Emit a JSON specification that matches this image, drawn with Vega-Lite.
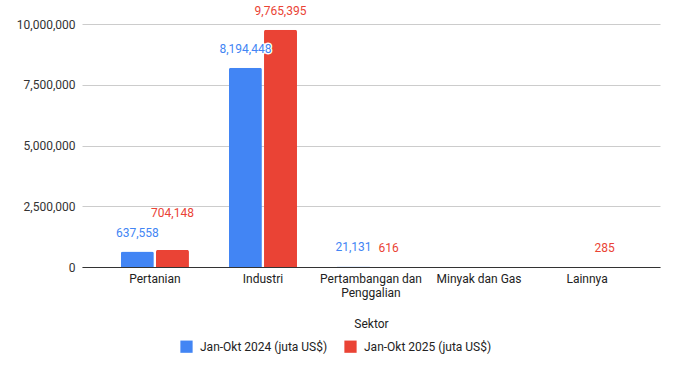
{
  "$schema": "https://vega.github.io/schema/vega-lite/v6.json",
  "width": 578,
  "height": 243,
  "autosize": {"type": "none"},
  "padding": {"left": 82, "top": 24, "right": 18, "bottom": 101},
  "background": "white",
  "config": {
    "font": "Roboto",
    "view": {"stroke": null},
    "axis": {"labelFont": "Roboto", "titleFont": "Roboto"},
    "legend": {"labelFont": "Roboto"}
  },
  "data": {
    "values": [
      {"Sektor": "Pertanian", "Periode": "Jan-Okt 2024 (juta US$)", "Nilai": 637558},
      {"Sektor": "Pertanian", "Periode": "Jan-Okt 2025 (juta US$)", "Nilai": 704148},
      {"Sektor": "Industri", "Periode": "Jan-Okt 2024 (juta US$)", "Nilai": 8194448},
      {"Sektor": "Industri", "Periode": "Jan-Okt 2025 (juta US$)", "Nilai": 9765395},
      {"Sektor": "Pertambangan dan Penggalian", "Periode": "Jan-Okt 2024 (juta US$)", "Nilai": 21131},
      {"Sektor": "Pertambangan dan Penggalian", "Periode": "Jan-Okt 2025 (juta US$)", "Nilai": 616},
      {"Sektor": "Minyak dan Gas", "Periode": "Jan-Okt 2024 (juta US$)", "Nilai": null},
      {"Sektor": "Minyak dan Gas", "Periode": "Jan-Okt 2025 (juta US$)", "Nilai": null},
      {"Sektor": "Lainnya", "Periode": "Jan-Okt 2024 (juta US$)", "Nilai": null},
      {"Sektor": "Lainnya", "Periode": "Jan-Okt 2025 (juta US$)", "Nilai": 285}
    ]
  },
  "encoding": {
    "x": {
      "field": "Sektor",
      "type": "nominal",
      "sort": ["Pertanian", "Industri", "Pertambangan dan Penggalian", "Minyak dan Gas", "Lainnya"],
      "scale": {"paddingInner": 0.37, "paddingOuter": 0.36},
      "axis": {
        "title": "Sektor",
        "titleFontSize": 12,
        "titleFontWeight": "normal",
        "titleColor": "#222222",
        "titlePadding": 20,
        "labelAngle": 0,
        "labelFontSize": 12,
        "labelColor": "#222222",
        "labelPadding": 6,
        "labelLineHeight": 14,
        "labelExpr": "datum.label == 'Pertambangan dan Penggalian' ? ['Pertambangan dan', 'Penggalian'] : datum.label",
        "ticks": false,
        "domainColor": "#333333",
        "domainWidth": 1,
        "grid": false
      }
    },
    "xOffset": {
      "field": "Periode",
      "type": "nominal",
      "scale": {"paddingInner": 0.06}
    },
    "y": {
      "field": "Nilai",
      "type": "quantitative",
      "scale": {"domain": [0, 10000000], "nice": false},
      "axis": {
        "title": null,
        "values": [0, 2500000, 5000000, 7500000, 10000000],
        "format": ",.0f",
        "labelFontSize": 12,
        "labelColor": "#333333",
        "labelPadding": 7,
        "ticks": false,
        "domain": false,
        "gridColor": "#cccccc",
        "gridWidth": 1
      }
    }
  },
  "layer": [
    {
      "mark": {"type": "bar", "cornerRadiusTopLeft": 2, "cornerRadiusTopRight": 2},
      "encoding": {
        "color": {
          "field": "Periode",
          "type": "nominal",
          "scale": {"range": ["#4285F4", "#EA4335"]},
          "legend": {
            "title": null,
            "orient": "none",
            "legendX": 98,
            "legendY": 316,
            "direction": "horizontal",
            "symbolType": "square",
            "symbolSize": 150,
            "symbolStrokeWidth": 0,
            "labelFontSize": 12,
            "labelColor": "#222222",
            "labelOffset": 7,
            "columnPadding": 16
          }
        }
      }
    },
    {
      "transform": [{"filter": "isValid(datum.Nilai) && !(datum.Sektor == 'Pertanian' && datum.Periode == 'Jan-Okt 2025 (juta US$)')"}],
      "mark": {"type": "text", "baseline": "bottom", "dy": -12, "fontSize": 12, "stroke": "white", "strokeWidth": 3, "strokeJoin": "round"},
      "encoding": {
        "text": {"field": "Nilai", "type": "quantitative", "format": ",.0f"}
      }
    },
    {
      "transform": [{"filter": "isValid(datum.Nilai) && !(datum.Sektor == 'Pertanian' && datum.Periode == 'Jan-Okt 2025 (juta US$)')"}],
      "mark": {"type": "text", "baseline": "bottom", "dy": -12, "fontSize": 12},
      "encoding": {
        "text": {"field": "Nilai", "type": "quantitative", "format": ",.0f"},
        "color": {"field": "Periode", "type": "nominal"}
      }
    },
    {
      "transform": [{"filter": "datum.Sektor == 'Pertanian' && datum.Periode == 'Jan-Okt 2025 (juta US$)'"}],
      "mark": {"type": "text", "baseline": "bottom", "dy": -30, "fontSize": 12},
      "encoding": {
        "text": {"field": "Nilai", "type": "quantitative", "format": ",.0f"},
        "color": {"field": "Periode", "type": "nominal"}
      }
    }
  ]
}
